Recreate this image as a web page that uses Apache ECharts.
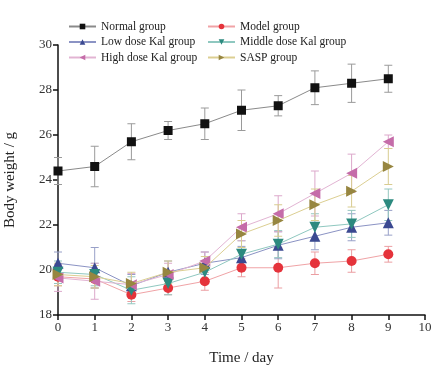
<!DOCTYPE html>
<html>
<head>
<meta charset="utf-8">
<script src="https://cdn.jsdelivr.net/npm/echarts@6/dist/echarts.min.js"></script>
<style>html,body{margin:0;padding:0;background:#fff}#c{width:445px;height:372px}</style>
</head>
<body>
<div id="c"></div>
<script>
// days on x axis
const days = [0, 1, 2, 3, 4, 5, 6, 7, 8, 9];

// mean body weight (g) and error (±) per group
const normalMean = [24.4, 24.6, 25.7, 26.2, 26.5, 27.1, 27.3, 28.1, 28.3, 28.5];
const normalErr = [0.6, 0.9, 0.8, 0.4, 0.7, 0.9, 0.45, 0.75, 0.85, 0.6];
const modelMean = [19.7, 19.6, 18.9, 19.2, 19.5, 20.1, 20.1, 20.3, 20.4, 20.7];
const modelErr = [0.4, 0.4, 0.3, 0.3, 0.4, 0.4, 0.9, 0.5, 0.5, 0.35];
const lowMean = [20.3, 20.1, 19.3, 19.9, 20.3, 20.55, 21.1, 21.5, 21.9, 22.1];
const lowErr = [0.5, 0.9, 0.5, 0.5, 0.5, 0.5, 0.6, 0.6, 0.6, 0.55];
const middleMean = [19.9, 19.8, 19.1, 19.4, 19.9, 20.7, 21.15, 21.9, 22.05, 22.9];
const middleErr = [0.5, 0.5, 0.6, 0.5, 0.5, 0.6, 0.6, 0.6, 0.6, 0.7];
const highMean = [19.65, 19.5, 19.35, 19.8, 20.4, 21.9, 22.5, 23.4, 24.3, 25.7];
const highErr = [0.6, 0.8, 0.5, 0.5, 0.4, 0.6, 0.8, 1.0, 0.85, 0.3];
const saspMean = [19.8, 19.7, 19.4, 19.9, 20.1, 21.6, 22.2, 22.9, 23.5, 24.6];
const saspErr = [0.5, 0.5, 0.5, 0.5, 0.5, 0.6, 0.7, 0.7, 0.7, 0.8];

const xTicks = [0, 10, 1];   // min, max, interval
const yTicks = [18, 30, 2];

const FONT = 'Liberation Serif';

// name, mean, err, symbol, rotate, marker colour, line colour, error colour, size
const groups = [
  ['Normal group', normalMean, normalErr, 'rect', 0, '#111111', '#8a8a8a', '#9a9a9a', 9],
  ['Model group', modelMean, modelErr, 'circle', 0, '#e5333b', '#f0a3a6', '#eb9ea2', 10],
  ['Low dose Kal group', lowMean, lowErr, 'triangle', 0, '#3b4991', '#8b93c4', '#98a0c8', 11],
  ['Middle dose Kal group', middleMean, middleErr, 'triangle', 180, '#2c8a7f', '#8fc8c0', '#94c6bf', 11],
  ['High dose Kal group', highMean, highErr, 'triangle', 90, '#c56ca9', '#e2b4d3', '#dca8cb', 11],
  ['SASP group', saspMean, saspErr, 'triangle', -90, '#978640', '#dccf92', '#d8cc90', 11],
];

const series = [];
groups.forEach(([name, mean, err, sym, rot, col, lineCol, errCol, size], gi) => {
  series.push({
    name: name + ' err',
    type: 'custom',
    z: 1,
    silent: true,
    data: days.map((d, i) => [d, mean[i], err[i]]),
    renderItem: (params, api) => {
      const x = api.value(0), m = api.value(1), e = api.value(2);
      const top = api.coord([x, m + e]);
      const bot = api.coord([x, m - e]);
      const hw = 4;
      const st = { stroke: errCol, lineWidth: 1 };
      return {
        type: 'group',
        children: [
          { type: 'line', shape: { x1: top[0], y1: top[1], x2: bot[0], y2: bot[1] }, style: st },
          { type: 'line', shape: { x1: top[0] - hw, y1: top[1], x2: top[0] + hw, y2: top[1] }, style: st },
          { type: 'line', shape: { x1: bot[0] - hw, y1: bot[1], x2: bot[0] + hw, y2: bot[1] }, style: st },
        ],
      };
    },
  });
  series.push({
    name,
    type: 'line',
    z: 3 + gi,
    data: days.map((d, i) => [d, mean[i]]),
    symbol: sym,
    symbolRotate: rot,
    symbolSize: size,
    showAllSymbol: true,
    itemStyle: { color: col },
    lineStyle: { color: lineCol, width: 1 },
  });
});

const legendBase = {
  orient: 'vertical',
  padding: 0,
  itemWidth: 27,
  itemHeight: 7,
  itemGap: 1.5,
  textStyle: { fontFamily: FONT, fontSize: 11.5, lineHeight: 14, color: '#222' },
};

const chart = echarts.init(document.getElementById('c'), null, { renderer: 'canvas' });
chart.setOption({
  animation: false,
  backgroundColor: '#fff',
  legend: [
    Object.assign({}, legendBase, { left: 68, top: 19.5, data: ['Normal group', 'Low dose Kal group', 'High dose Kal group'] }),
    Object.assign({}, legendBase, { left: 207, top: 19.5, data: ['Model group', 'Middle dose Kal group', 'SASP group'] }),
  ],
  grid: { left: 58, right: 20, top: 45, bottom: 57, outerBoundsMode: 'none' },
  xAxis: {
    type: 'value',
    min: xTicks[0],
    max: xTicks[1],
    interval: xTicks[2],
    name: 'Time / day',
    nameLocation: 'middle',
    nameGap: 36,
    nameTextStyle: { fontFamily: FONT, fontSize: 15, color: '#222' },
    axisLine: { lineStyle: { color: '#111', width: 1.5 } },
    axisTick: { length: 5, lineStyle: { color: '#111', width: 1.5 } },
    axisLabel: { fontFamily: FONT, fontSize: 13, color: '#333', margin: 6 },
    splitLine: { show: false },
  },
  yAxis: {
    type: 'value',
    min: yTicks[0],
    max: yTicks[1],
    interval: yTicks[2],
    name: 'Body weight / g',
    nameLocation: 'middle',
    nameGap: 40,
    nameTextStyle: { fontFamily: FONT, fontSize: 15, color: '#222' },
    axisLine: { show: true, lineStyle: { color: '#111', width: 1.5 } },
    axisTick: { show: true, length: 5, lineStyle: { color: '#111', width: 1.5 } },
    axisLabel: { fontFamily: FONT, fontSize: 13, color: '#333', margin: 6 },
    splitLine: { show: false },
  },
  series,
});
</script>
</body>
</html>
